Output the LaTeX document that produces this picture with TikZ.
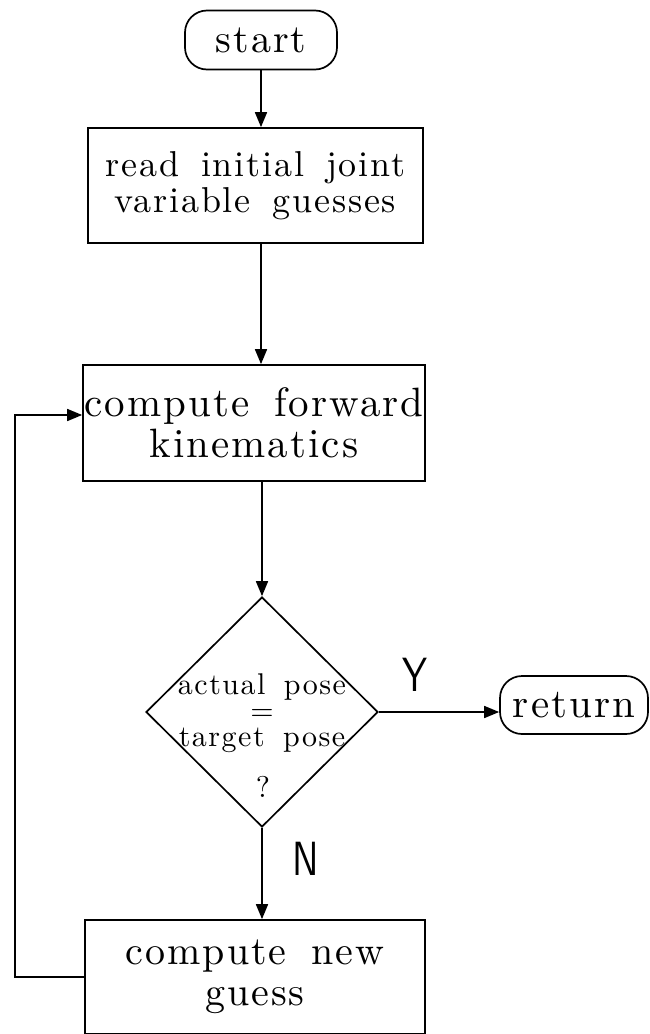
\documentclass[tikz,border=0pt]{standalone}
\usepackage{fontspec}
\usetikzlibrary{arrows.meta,shapes.geometric}
\newfontfamily\lmfont{lmroman10-regular}[Extension=.otf,LetterSpace=5,WordSpace=1.6]
\newfontfamily\lmsans{lmsans10-regular}[Extension=.otf]
\tikzset{
  every node/.style={font=\lmfont},
  line/.style={line width=1.7pt},
  arr/.style={line, -{Triangle[length=15pt,width=12pt]}},
  terminal/.style={draw, line width=1.7pt, rectangle, rounded corners=22pt,
    inner sep=0pt},
  process/.style={draw, line width=1.7pt, rectangle, inner sep=0pt, align=center},
  decision/.style={draw, line width=1.7pt, diamond, inner sep=0pt,
    minimum width=232pt, minimum height=230pt},
  dtext/.style={font=\lmfont\fontsize{30}{26}\selectfont, inner sep=0pt, align=center},
  yn/.style={font=\lmsans\fontsize{48}{48}\selectfont, xscale=0.78, inner sep=0pt}
}
\begin{document}
\begin{tikzpicture}[x=1pt,y=-1pt]
\useasboundingbox (0,0) rectangle (649,1034);

% terminals
\node[terminal, minimum width=152pt, minimum height=59pt,
  font=\lmfont\fontsize{40}{40}\selectfont] (start) at (261,40) {start};
\node[terminal, minimum width=148pt, minimum height=58pt,
  font=\lmfont\fontsize{41}{40}\selectfont] (ret) at (574,705) {return};

% process boxes
\node[process, minimum width=335pt, minimum height=115pt,
  font=\lmfont\fontsize{36}{36}\selectfont] (read) at (255.5,185.5)
  {read initial joint\\variable guesses};
\node[process, minimum width=342pt, minimum height=116pt,
  font=\lmfont\fontsize{41}{41}\selectfont] (fk) at (254,423)
  {compute forward\\kinematics};
\node[process, minimum width=340pt, minimum height=114pt,
  font=\lmfont\fontsize{40}{41}\selectfont] (guess) at (255,977)
  {compute new\\guess};

% decision
\node[decision] (dec) at (262,712) {};
\node[dtext] (q) at (262,713) {actual pose\\=\\target pose};
\node[dtext] (qm) at (263,787) {?};

% branch labels
\node[yn] (ylab) at (415,675) {Y};
\node[yn] (nlab) at (306,859) {N};

% loop corner
\coordinate (lp) at (15,415);

% connectors
\draw[arr] (start.south) -- (start.south |- read.north);
\draw[arr] (read.south -| start) -- (fk.north -| start);
\draw[arr] (fk.south -| dec) -- (dec.north);
\draw[arr] (dec.east) -- (dec.east -| ret.west);
\draw[arr] (dec.south) -- (dec.south |- guess.north);
\draw[arr] (guess.west) -- (guess.west -| lp) -- (lp) -- (lp -| fk.west);
\end{tikzpicture}
\end{document}
